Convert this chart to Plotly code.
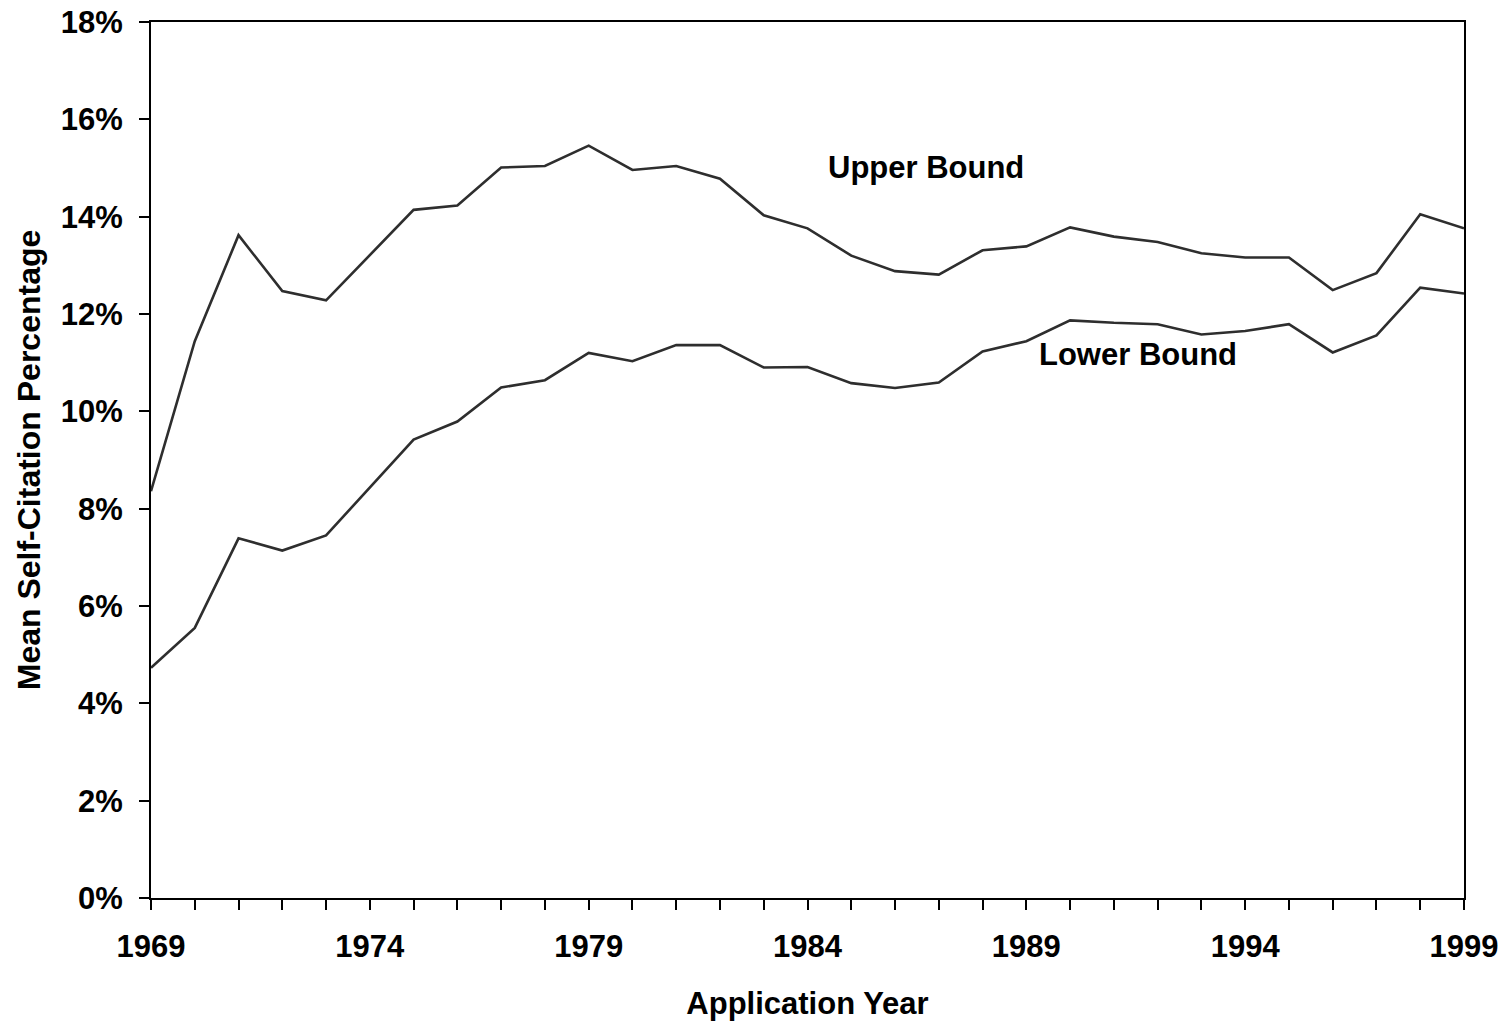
import plotly.graph_objects as go

years = list(range(1969, 2000))
upper_bound = [8.36, 11.44, 13.62, 12.47, 12.28, 13.21, 14.14, 14.23, 15.01, 15.04,
               15.46, 14.96, 15.04, 14.78, 14.03, 13.76, 13.20, 12.88, 12.81, 13.31,
               13.39, 13.78, 13.59, 13.48, 13.25, 13.16, 13.16, 12.49, 12.84, 14.05, 13.76]
lower_bound = [4.73, 5.55, 7.39, 7.14, 7.45, 8.44, 9.42, 9.79, 10.49, 10.64,
               11.20, 11.03, 11.36, 11.36, 10.90, 10.91, 10.58, 10.48, 10.59, 11.23,
               11.44, 11.87, 11.82, 11.79, 11.58, 11.65, 11.79, 11.21, 11.56, 12.54, 12.42]
x_tick_labels = [str(y) if (y - 1969) % 5 == 0 else "" for y in years]
y_ticks = [0, 2, 4, 6, 8, 10, 12, 14, 16, 18]
y_tick_labels = ["0%", "2%", "4%", "6%", "8%", "10%", "12%", "14%", "16%", "18%"]

FONT = "Arial, 'Liberation Sans', sans-serif"
LINE = "#2e2e2e"

fig = go.Figure()
fig.add_trace(go.Scatter(x=years, y=upper_bound, mode="lines", name="Upper Bound",
                         line=dict(color=LINE, width=2.6)))
fig.add_trace(go.Scatter(x=years, y=lower_bound, mode="lines", name="Lower Bound",
                         line=dict(color=LINE, width=2.6)))

fig.add_annotation(x=1986.7, y=15.02, text="Upper Bound", showarrow=False,
                   font=dict(family=FONT, size=31, color="black", weight="bold"))
fig.add_annotation(x=1991.55, y=11.17, text="Lower Bound", showarrow=False,
                   font=dict(family=FONT, size=31, color="black", weight="bold"))

fig.update_layout(
    width=1507, height=1024,
    margin=dict(l=151, r=43, t=22, b=126, autoexpand=False),
    paper_bgcolor="white", plot_bgcolor="white",
    showlegend=False,
    font=dict(family=FONT, size=31, color="black", weight="bold"),
)
fig.update_xaxes(
    range=[1969, 1999], tickmode="array", tickvals=years, ticktext=x_tick_labels,
    showline=True, linecolor="black", linewidth=2, mirror=True,
    ticks="outside", ticklen=10, tickwidth=1.5, tickcolor="black",
    showgrid=False, zeroline=False, automargin=False, ticklabelstandoff=10,
    tickfont=dict(family=FONT, size=31, color="black", weight="bold"),
    title=dict(text="Application Year", standoff=29,
               font=dict(family=FONT, size=31, color="black", weight="bold")),
)
fig.update_yaxes(
    range=[0, 18], tickmode="array", tickvals=y_ticks, ticktext=y_tick_labels,
    showline=True, linecolor="black", linewidth=2, mirror=True,
    ticks="outside", ticklen=10, tickwidth=1.5, tickcolor="black",
    showgrid=False, zeroline=False, automargin=False, ticklabelstandoff=10,
    tickfont=dict(family=FONT, size=31, color="black", weight="bold"),
    title=dict(text="Mean Self-Citation Percentage", standoff=11,
               font=dict(family=FONT, size=32, color="black", weight="bold")),
)

fig.write_html("out.html", config={"displayModeBar": False},
               post_script="document.body.style.margin='0';")
